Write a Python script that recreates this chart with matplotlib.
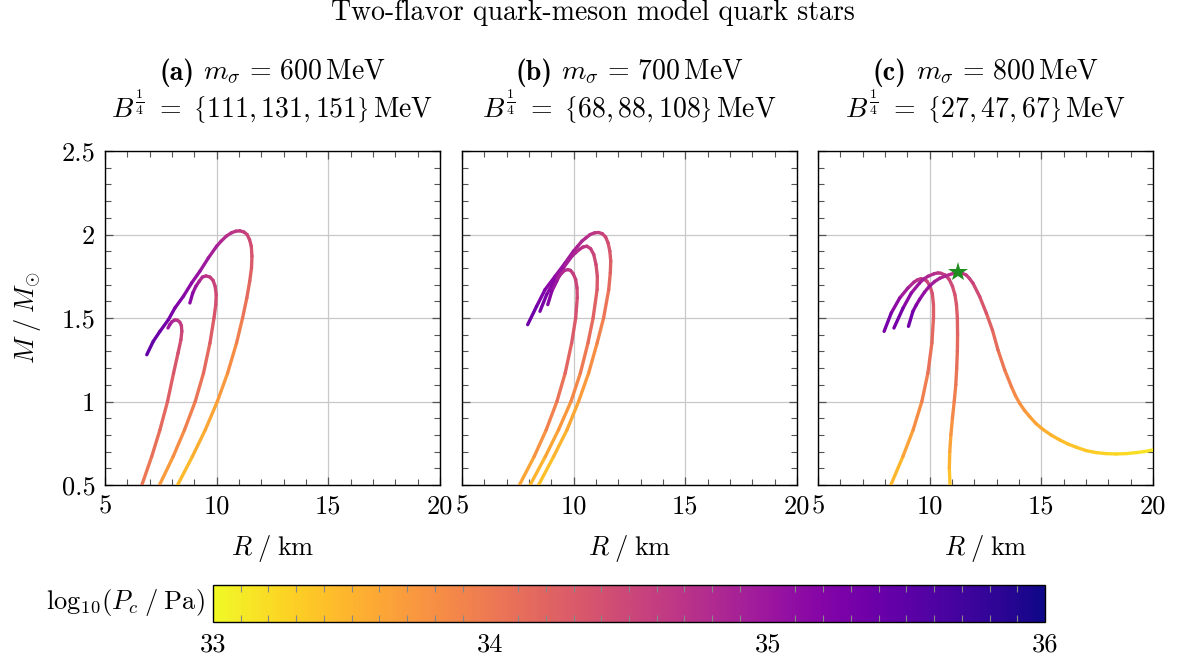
import numpy as np
import matplotlib
matplotlib.use("Agg")
import matplotlib.pyplot as plt
from matplotlib.collections import LineCollection
from matplotlib.colors import Normalize
from matplotlib.cm import ScalarMappable
from matplotlib.ticker import MultipleLocator, FixedLocator, FixedFormatter

plt.rcParams['font.family'] = 'serif'
plt.rcParams['font.serif'] = ['cmr10', 'DejaVu Serif']
plt.rcParams['mathtext.fontset'] = 'cm'
plt.rcParams['axes.formatter.use_mathtext'] = True
plt.rcParams['axes.unicode_minus'] = False

# ---------------- data ----------------
panel_labels = ["(a)", "(b)", "(c)"]
panel_titles = [r"$m_\sigma\,=\,600\,\mathrm{MeV}$",
                r"$m_\sigma\,=\,700\,\mathrm{MeV}$",
                r"$m_\sigma\,=\,800\,\mathrm{MeV}$"]
panel_bags = [r"$B^{\frac{1}{4}}\ =\ \left\{111, 131, 151\right\}\,\mathrm{MeV}$",
              r"$B^{\frac{1}{4}}\ =\ \left\{68, 88, 108\right\}\,\mathrm{MeV}$",
              r"$B^{\frac{1}{4}}\ =\ \left\{27, 47, 67\right\}\,\mathrm{MeV}$"]

x_ticks = [5, 10, 15, 20]
x_ticklabels = ['5', '10', '15', '20']
y_ticks = [0.5, 1.0, 1.5, 2.0, 2.5]
y_ticklabels = ['0.5', '1', '1.5', '2', '2.5']
cbar_ticks = [33, 34, 35, 36]

# panel (a)
a1_R = [8.25, 8.91, 9.49, 10.03, 10.49, 10.89, 11.16, 11.35, 11.48, 11.56, 11.58, 11.55, 11.47, 11.36,
        11.22, 11.04, 10.86, 10.66, 10.43, 10.20, 10.00, 9.63, 9.25, 8.88, 8.51, 8.13, 7.84, 7.46, 7.16, 6.87]
a1_M = [0.50, 0.67, 0.83, 1.00, 1.17, 1.35, 1.50, 1.62, 1.72, 1.80, 1.87, 1.93, 1.97, 2.00,
        2.015, 2.022, 2.02, 2.01, 1.99, 1.96, 1.93, 1.86, 1.78, 1.71, 1.63, 1.56, 1.49, 1.42, 1.36, 1.28]
a1_P = [33.40, 33.50, 33.58, 33.66, 33.76, 33.88, 34.00, 34.10, 34.20, 34.26, 34.33, 34.40, 34.46, 34.51,
        34.56, 34.61, 34.65, 34.69, 34.74, 34.80, 34.86, 34.94, 35.02, 35.10, 35.17, 35.24, 35.30, 35.36, 35.42, 35.48]

a2_R = [7.44, 8.05, 8.56, 9.04, 9.41, 9.70, 9.88, 9.96, 9.98, 9.93, 9.84, 9.70, 9.52, 9.36, 9.22, 9.07, 8.93, 8.80]
a2_M = [0.50, 0.67, 0.83, 1.00, 1.17, 1.35, 1.50, 1.58, 1.64, 1.69, 1.725, 1.745, 1.752, 1.745, 1.72, 1.69, 1.65, 1.59]
a2_P = [33.65, 33.75, 33.88, 34.00, 34.10, 34.22, 34.32, 34.38, 34.44, 34.50, 34.55, 34.60, 34.66, 34.74, 34.84, 34.96, 35.08, 35.20]

a3_R = [6.65, 7.09, 7.46, 7.80, 8.07, 8.27, 8.40, 8.44, 8.42, 8.35, 8.24, 8.12, 8.00, 7.90, 7.82]
a3_M = [0.50, 0.67, 0.83, 1.00, 1.17, 1.29, 1.37, 1.42, 1.455, 1.475, 1.487, 1.488, 1.478, 1.46, 1.44]
a3_P = [33.98, 34.05, 34.12, 34.20, 34.30, 34.38, 34.45, 34.52, 34.57, 34.62, 34.68, 34.74, 34.82, 34.92, 35.05]

# panel (b)
b1_R = [8.43, 9.10, 9.70, 10.22, 10.67, 11.05, 11.34, 11.57, 11.64, 11.66, 11.62, 11.54, 11.43, 11.28, 11.12,
        10.94, 10.74, 10.55, 10.37, 10.18, 9.99, 9.62, 9.17, 8.72, 8.34, 7.94]
b1_M = [0.50, 0.67, 0.83, 1.00, 1.17, 1.35, 1.50, 1.67, 1.77, 1.84, 1.90, 1.95, 1.985, 2.005, 2.012,
        2.01, 2.00, 1.98, 1.96, 1.93, 1.90, 1.83, 1.75, 1.67, 1.57, 1.46]
b1_P = [33.35, 33.45, 33.55, 33.65, 33.75, 33.86, 33.97, 34.10, 34.20, 34.27, 34.33, 34.40, 34.46, 34.52, 34.58,
        34.64, 34.70, 34.75, 34.80, 34.85, 34.90, 35.00, 35.10, 35.20, 35.30, 35.42]

b2_R = [8.05, 8.73, 9.32, 9.88, 10.30, 10.64, 10.87, 11.05, 11.06, 11.00, 10.90, 10.76, 10.59, 10.42,
        10.25, 10.08, 9.92, 9.54, 9.17, 8.79, 8.49]
b2_M = [0.50, 0.67, 0.83, 1.00, 1.17, 1.35, 1.50, 1.67, 1.75, 1.82, 1.88, 1.915, 1.930, 1.925,
        1.91, 1.89, 1.87, 1.80, 1.73, 1.64, 1.54]
b2_P = [33.45, 33.55, 33.67, 33.80, 33.92, 34.05, 34.18, 34.30, 34.37, 34.44, 34.50, 34.56, 34.62, 34.68,
        34.74, 34.80, 34.86, 34.98, 35.10, 35.22, 35.35]

b3_R = [7.57, 8.23, 8.77, 9.25, 9.62, 9.91, 10.09, 10.16, 10.15, 10.09, 9.98, 9.86, 9.74, 9.60, 9.47,
        9.35, 9.24, 9.02, 8.84]
b3_M = [0.50, 0.67, 0.83, 1.00, 1.17, 1.35, 1.50, 1.62, 1.68, 1.73, 1.765, 1.785, 1.79, 1.785, 1.77,
        1.75, 1.72, 1.66, 1.58]
b3_P = [33.55, 33.68, 33.85, 34.00, 34.12, 34.25, 34.35, 34.43, 34.48, 34.53, 34.58, 34.63, 34.68, 34.74, 34.80,
        34.88, 34.95, 35.10, 35.25]

# panel (c)
c1_R = [8.26, 8.80, 9.26, 9.65, 9.92, 10.10, 10.17, 10.17, 10.12, 10.02, 9.88, 9.74, 9.60, 9.45, 9.30,
        9.03, 8.66, 8.28, 7.96]
c1_M = [0.50, 0.67, 0.83, 1.00, 1.17, 1.35, 1.50, 1.58, 1.645, 1.69, 1.72, 1.733, 1.735, 1.728, 1.715,
        1.68, 1.62, 1.53, 1.42]
c1_P = [33.40, 33.55, 33.72, 33.90, 34.02, 34.12, 34.22, 34.28, 34.35, 34.42, 34.50, 34.56, 34.62, 34.68, 34.75,
        34.86, 35.02, 35.20, 35.40]

c2_R = [10.91, 10.88, 10.90, 10.95, 11.02, 11.10, 11.17, 11.21, 11.24, 11.25, 11.24, 11.20, 11.13, 11.02,
        10.88, 10.70, 10.50, 10.37, 10.20, 9.93, 9.70, 9.55, 9.18, 8.81, 8.40]
c2_M = [0.50, 0.60, 0.70, 0.80, 0.90, 1.00, 1.10, 1.20, 1.30, 1.40, 1.50, 1.58, 1.64, 1.69,
        1.73, 1.757, 1.768, 1.77, 1.765, 1.75, 1.73, 1.71, 1.65, 1.56, 1.44]
c2_P = [33.30, 33.45, 33.58, 33.70, 33.82, 33.92, 34.00, 34.06, 34.12, 34.18, 34.25, 34.30, 34.35, 34.42,
        34.50, 34.57, 34.63, 34.67, 34.72, 34.80, 34.88, 34.95, 35.08, 35.22, 35.42]

c3_R = [20.00, 19.60, 19.25, 18.80, 18.36, 17.90, 17.46, 17.00, 16.57, 16.20, 15.82, 15.45, 15.07, 14.76,
        14.48, 14.24, 14.03, 13.84, 13.66, 13.36, 13.06, 12.81, 12.54, 12.24, 11.94, 11.78, 11.64, 11.46,
        11.27, 11.08, 10.90, 10.68, 10.45, 10.22, 10.00, 9.77, 9.55, 9.40, 9.25, 9.05]
c3_M = [0.710, 0.700, 0.694, 0.688, 0.686, 0.688, 0.694, 0.706, 0.726, 0.745, 0.770, 0.798, 0.833, 0.868,
        0.909, 0.948, 0.989, 1.035, 1.089, 1.189, 1.308, 1.428, 1.528, 1.628, 1.708, 1.737, 1.757, 1.768,
        1.772, 1.768, 1.760, 1.750, 1.738, 1.718, 1.692, 1.655, 1.612, 1.578, 1.540, 1.450]
c3_P = [33.12, 33.15, 33.18, 33.21, 33.24, 33.27, 33.30, 33.34, 33.38, 33.41, 33.45, 33.50, 33.55, 33.60,
        33.66, 33.71, 33.77, 33.82, 33.88, 33.98, 34.08, 34.18, 34.28, 34.40, 34.52, 34.56, 34.60, 34.63,
        34.66, 34.70, 34.75, 34.80, 34.85, 34.91, 34.98, 35.05, 35.12, 35.19, 35.26, 35.42]

star_R = [11.27]
star_M = [1.773]

panels = [
    [(a1_R, a1_M, a1_P), (a2_R, a2_M, a2_P), (a3_R, a3_M, a3_P)],
    [(b1_R, b1_M, b1_P), (b2_R, b2_M, b2_P), (b3_R, b3_M, b3_P)],
    [(c1_R, c1_M, c1_P), (c2_R, c2_M, c2_P), (c3_R, c3_M, c3_P)],
]

# ---------------- figure ----------------
W, H = 1185, 664
fig = plt.figure(figsize=(W / 100, H / 100), dpi=100)
cmap = plt.get_cmap('plasma_r')
norm = Normalize(33, 36)

ax_lefts = [105, 462, 818]
ax_w, ax_h = 335, 334
ax_bottom_px = 485
fs_tick = 19
fs_lab = 19
fs_title = 20

for i, (left, curves) in enumerate(zip(ax_lefts, panels)):
    ax = fig.add_axes([left / W, 1 - ax_bottom_px / H, ax_w / W, ax_h / H])
    for R, M, P in curves:
        pts = np.column_stack([R, M])
        segs = np.stack([pts[:-1], pts[1:]], axis=1)
        Pm = 0.5 * (np.asarray(P[:-1]) + np.asarray(P[1:]))
        lc = LineCollection(segs, cmap=cmap, norm=norm, linewidths=2.4,
                            capstyle='round', joinstyle='round', zorder=3)
        lc.set_array(Pm)
        ax.add_collection(lc)
    if i == 2:
        ax.plot(star_R, star_M, marker='*', color='#1e8c1e', markersize=15,
                linestyle='none', zorder=5, markeredgewidth=0)
    ax.set_xlim(5, 20)
    ax.set_ylim(0.5, 2.5)
    ax.xaxis.set_major_locator(FixedLocator(x_ticks))
    ax.xaxis.set_major_formatter(FixedFormatter(x_ticklabels))
    ax.yaxis.set_major_locator(FixedLocator(y_ticks))
    ax.xaxis.set_minor_locator(MultipleLocator(1))
    ax.yaxis.set_minor_locator(MultipleLocator(0.1))
    if i == 0:
        ax.yaxis.set_major_formatter(FixedFormatter(y_ticklabels))
        ax.set_ylabel(r"$M\;/\;M_{\odot}$", fontsize=fs_lab)
        ax.yaxis.label.set_va('center')
        ax.yaxis.set_label_coords(-0.23, 0.5)
    else:
        ax.tick_params(axis='y', labelleft=False)
    ax.grid(True, which='major', color='#c8c8c8', linewidth=0.9, zorder=0)
    ax.set_axisbelow(True)
    ax.tick_params(which='both', direction='in', top=True, right=True,
                   color='#555555', labelsize=fs_tick)
    ax.tick_params(which='major', length=6, width=0.9, pad=7)
    ax.tick_params(which='minor', length=4.5, width=0.8)
    for sp in ax.spines.values():
        sp.set_linewidth(1.0)
        sp.set_color('black')
    ax.set_xlabel(r"$R\;/\;\mathrm{km}$", fontsize=fs_lab)
    ax.xaxis.label.set_va('center')
    ax.xaxis.set_label_coords(0.5, (ax_bottom_px - 548) / ax_h)
    # first title line: bold "(x)" label followed by the mathtext part
    y1 = (ax_bottom_px - 80) / ax_h
    t_main = ax.text(0.5, y1, " " + panel_titles[i],
                     transform=ax.transAxes, ha='center', va='baseline', fontsize=fs_title)
    fig.canvas.draw()
    bb = t_main.get_window_extent()
    inv = ax.transAxes.inverted()
    x0 = inv.transform((bb.x0, bb.y0))[0]
    t_lab = ax.text(x0, y1, panel_labels[i], transform=ax.transAxes,
                    ha='right', va='baseline', fontsize=fs_title, fontfamily='cmb10')
    fig.canvas.draw()
    bl = t_lab.get_window_extent()
    dx = inv.transform((bb.x0 + bl.width / 2.0, 0))[0] - inv.transform((bb.x0, 0))[0]
    t_main.set_x(0.5 + dx)
    t_lab.set_x(x0 + dx)
    ax.text(0.5, (ax_bottom_px - 118) / ax_h, panel_bags[i], transform=ax.transAxes,
            ha='center', va='baseline', fontsize=fs_title)

fig.text(0.5, 1 - 20 / H, "Two-flavor quark-meson model quark stars",
         ha='center', va='baseline', fontsize=fs_title)

# colorbar
cax = fig.add_axes([213 / W, 1 - 622 / H, 832 / W, 37 / H])
sm = ScalarMappable(norm=norm, cmap=cmap)
cb = fig.colorbar(sm, cax=cax, orientation='horizontal')
cb.set_ticks(cbar_ticks)
cb.set_ticklabels([str(t) for t in cbar_ticks])
cax.xaxis.set_minor_locator(MultipleLocator(0.1))
cax.tick_params(which='both', direction='in', top=True, bottom=True, color='#888888',
                labelsize=fs_tick)
cax.tick_params(which='major', length=0, pad=8)
cax.tick_params(which='minor', length=5, width=0.8)
cb.outline.set_linewidth(1.0)
fig.text(205 / W, 1 - 603 / H, r"$\mathrm{log}_{10}(P_c\;/\;\mathrm{Pa})$",
         ha='right', va='center', fontsize=fs_lab)

fig.savefig("out.png", dpi=100)
